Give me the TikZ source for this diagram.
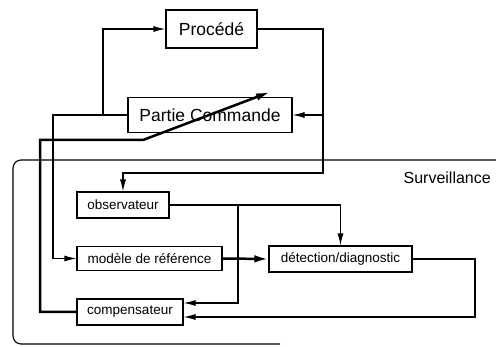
\documentclass[tikz,border=0pt]{standalone}
\usepackage{fontspec}
\setmainfont{Liberation Sans}
\usetikzlibrary{arrows.meta, calc}

\begin{document}
\begin{tikzpicture}[x=1pt,y=-1pt,
    blk/.style={draw,line width=1.1pt,inner sep=0pt,align=center},
    big/.style={blk,font=\fontsize{17.5}{20}\selectfont},
    sml/.style={blk,font=\fontsize{13.5}{16}\selectfont},
    ln/.style={line width=1.1pt},
    fl/.style={ln,-{Latex[length=12pt,width=6pt]}},
    thk/.style={line width=2.5pt},
    tfl/.style={thk,-{Latex[length=14pt,width=7.5pt]}},
    >=Latex
  ]
    \useasboundingbox (0,0) rectangle (496,347);

    %% Process loop ───────────────────────────
    \node[big, minimum width=91pt, minimum height=38pt] (proc) at (211.5,29) {Procédé};
    \node[big, minimum width=164pt, minimum height=35pt] (pc) at (210,115) {Partie Commande};

    %% Surveillance ───────────────────────────
    \draw[ln, rounded corners=8pt] (496,160) -- (13,160) -- (13,344) -- (280,344);
    \node[font=\fontsize{16}{18}\selectfont, anchor=east, inner sep=0pt] (surv) at (491,178) {Surveillance};

    \node[sml, minimum width=92pt, minimum height=26pt]  (obs)  at (123,205) {observateur};
    \node[sml, minimum width=145pt, minimum height=24pt] (mod)  at (149.5,258.5) {modèle de référence};
    \node[sml, minimum width=106pt, minimum height=26pt] (comp) at (130,312) {compensateur};
    \node[sml, minimum width=143pt, minimum height=26pt] (det)  at (340.5,259) {détection/diagnostic};

    %% Commande -> procédé, modèle ────────────
    \coordinate (cmdL) at (53,115);
    \coordinate (cmdU) at (103,115);
    \draw[fl] (pc.west) -- (cmdL) |- (mod.west);
    \draw[fl] (cmdU) |- (proc.west);

    %% Mesures -> commande, observateur ────────
    \coordinate (mesR) at (323,173);
    \draw[fl] (proc.east) -| (mesR) -| (obs.north);
    \draw[fl] (mesR |- pc.east) -- (pc.east);

    %% Observateur -> détection, compensateur ──
    \coordinate (obsX) at (238,205);
    \draw[fl] (obs.east) -- (obsX) -| (det.north);
    \draw[fl] (obsX) |- ($(comp.east)+(0,-9)$);

    %% Modèle -> détection ────────────────────
    \draw[tfl] (mod.east) -- (det.west);

    %% Diagnostic -> compensateur ─────────────
    \coordinate (detR) at (475,259);
    \draw[fl] (det.east) -- (detR) |- ($(comp.east)+(0,5)$);

    %% Compensation de la commande ────────────
    \coordinate (adjT) at (270,92);
    \draw[tfl] (comp.west) -| (40,140) -- (143,140) -- (adjT);

\end{tikzpicture}
\end{document}
